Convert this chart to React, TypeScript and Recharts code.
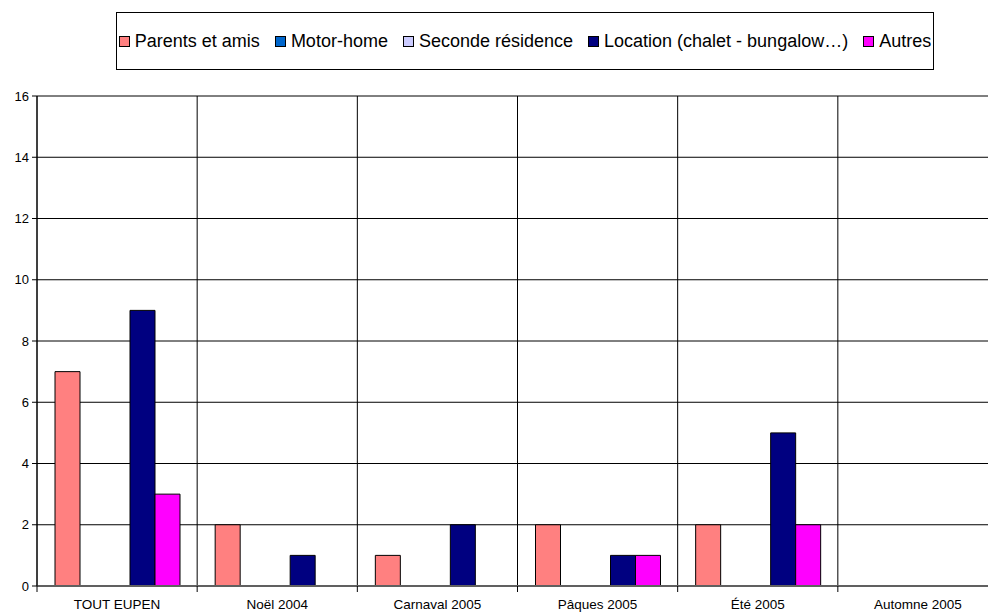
import React from 'react';
import { BarChart, Bar, XAxis, YAxis, CartesianGrid, Legend } from 'recharts';

const categories = ['TOUT EUPEN', 'Noël 2004', 'Carnaval 2005', 'Pâques 2005', 'Été 2005', 'Automne 2005'];
const parentsEtAmis = [7, 2, 1, 2, 2, 0];
const motorHome = [0, 0, 0, 0, 0, 0];
const secondeResidence = [0, 0, 0, 0, 0, 0];
const location = [9, 1, 2, 1, 5, 0];
const autres = [3, 0, 0, 1, 2, 0];
const yTicks = [0, 2, 4, 6, 8, 10, 12, 14, 16];

const seriesDefs = [
  { key: 'parents', name: 'Parents et amis', color: '#FF8080', values: parentsEtAmis },
  { key: 'motor', name: 'Motor-home', color: '#0066CC', values: motorHome },
  { key: 'seconde', name: 'Seconde résidence', color: '#CCCCFF', values: secondeResidence },
  { key: 'location', name: 'Location (chalet - bungalow…)', color: '#000080', values: location },
  { key: 'autres', name: 'Autres', color: '#FF00FF', values: autres },
];

const data = categories.map((name, i) => {
  const row: any = { name };
  seriesDefs.forEach((s) => { row[s.key] = s.values[i]; });
  return row;
});

const CHART_W = 1008;
const CHART_H = 612;
const M_TOP = 96;
const M_RIGHT = 10;
const Y_W = 37;
const X_H = 26;
const PLOT_W = CHART_W - Y_W - M_RIGHT;
const BAND = PLOT_W / categories.length;
const FONT = '"Liberation Sans", Arial, sans-serif';

const XTick = (props: any) => {
  const { x, payload, index } = props;
  const axisY = CHART_H - X_H;
  const left = x - BAND / 2;
  return (
    <g>
      <line x1={left} y1={axisY} x2={left} y2={axisY + 6} stroke="#000" strokeWidth={1} />
      {index === categories.length - 1 && (
        <line x1={x + BAND / 2} y1={axisY} x2={x + BAND / 2} y2={axisY + 6} stroke="#000" strokeWidth={1} />
      )}
      <text x={x} y={axisY + 23} textAnchor="middle" fontSize={13.5} fontFamily={FONT} fill="#000">
        {payload.value}
      </text>
    </g>
  );
};

const LegendContent = () => (
  <div
    style={{
      boxSizing: 'border-box',
      width: 818,
      height: 58,
      border: '1px solid #000',
      background: '#fff',
      display: 'flex',
      alignItems: 'center',
      justifyContent: 'center',
      fontFamily: FONT,
      fontSize: 18,
      color: '#000',
      whiteSpace: 'nowrap',
    }}
  >
    {seriesDefs.map((s, i) => (
      <span key={s.key} style={{ display: 'inline-flex', alignItems: 'center', marginLeft: i === 0 ? 0 : 15 }}>
        <span
          style={{
            display: 'inline-block',
            boxSizing: 'border-box',
            width: 11,
            height: 11,
            background: s.color,
            border: '1px solid #000',
            marginRight: 5,
          }}
        />
        <span>{s.name}</span>
      </span>
    ))}
  </div>
);

export default function App() {
  return (
    <div style={{ position: 'fixed', left: 0, top: 0, width: 988, height: 612, overflow: 'hidden', background: '#fff' }}>
      <BarChart
        width={CHART_W}
        height={CHART_H}
        data={data}
        margin={{ top: M_TOP, right: M_RIGHT, left: 0, bottom: 0 }}
        barGap={0}
        barSize={25}
      >
        <CartesianGrid
          stroke="#000"
          strokeWidth={1}
          verticalCoordinatesGenerator={({ offset }: any) =>
            categories.map((_, i) => offset.left + (offset.width / categories.length) * i).concat([offset.left + offset.width])
          }
        />
        <XAxis
          dataKey="name"
          height={X_H}
          tickLine={false}
          axisLine={{ stroke: '#606060', strokeWidth: 2 }}
          tick={<XTick />}
          interval={0}
        />
        <YAxis
          width={Y_W}
          domain={[0, 16]}
          ticks={yTicks}
          interval={0}
          tickSize={5}
          tickMargin={3}
          axisLine={{ stroke: '#000' }}
          tickLine={{ stroke: '#000' }}
          tick={{ fontSize: 13, fontFamily: FONT, fill: '#000' }}
        />
        <Legend
          verticalAlign="middle"
          align="center"
          content={<LegendContent />}
          wrapperStyle={{ position: 'absolute', top: 12, left: 116, width: 818, height: 58 }}
        />
        {seriesDefs.map((s) => (
          <Bar
            key={s.key}
            dataKey={s.key}
            name={s.name}
            fill={s.color}
            stroke="#000"
            strokeWidth={1}
            isAnimationActive={false}
          />
        ))}
      </BarChart>
    </div>
  );
}
